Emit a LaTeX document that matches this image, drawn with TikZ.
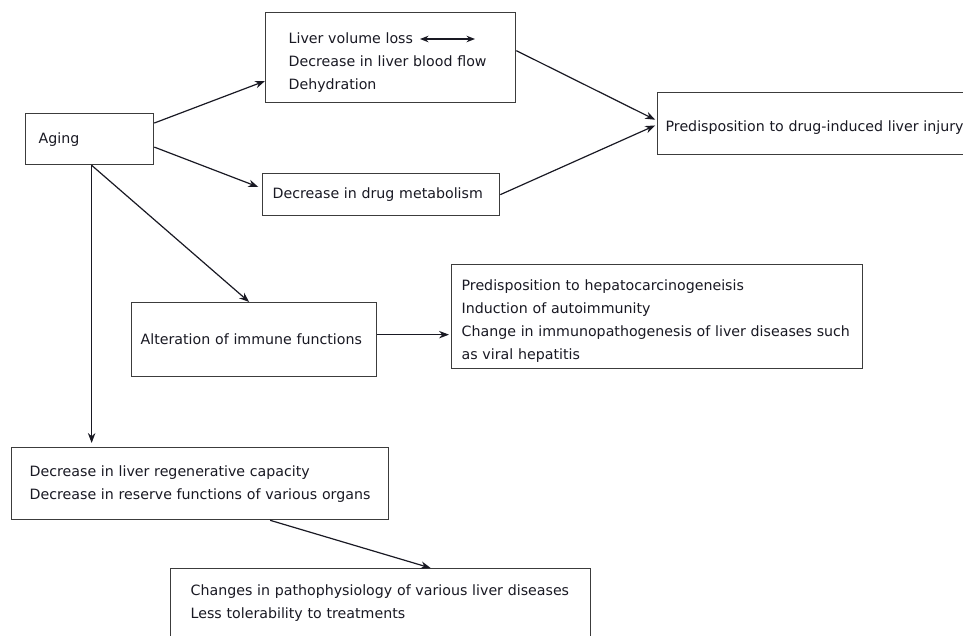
\documentclass[tikz,border=0pt]{standalone}
\usepackage{fontspec}
\setmainfont{DejaVu Sans}
\usepackage{tikz}
\usetikzlibrary{arrows.meta,calc}
\definecolor{framegray}{RGB}{60,60,60}
\definecolor{inkblack}{RGB}{25,25,35}
\tikzset{
  flow/.style={-{Stealth[length=10pt,width=7.5pt]},draw=inkblack,line width=1.2pt},
  twoway/.style={{Stealth[length=8.5pt,width=6.5pt]}-{Stealth[length=8.5pt,width=6.5pt]},draw=inkblack,line width=1.2pt},
  box/.style={draw=framegray,line width=1.3pt,fill=white,anchor=north west,align=left,
              text=inkblack,inner ysep=3pt,font=\fontsize{14.2}{23}\selectfont},
}
\begin{document}
\begin{tikzpicture}[x=1pt,y=-1pt]
  \path[use as bounding box] (0,0) rectangle (963,635);
  \clip (0,0) rectangle (963,635);

  \node[box,text width=102pt,inner xsep=13pt,minimum height=51pt] (aging) at (25,113)
    {Aging};
  \node[box,text width=204pt,inner xsep=23pt,minimum height=90pt,text height=21pt] (liver) at (265,12)
    {Liver volume loss\\
     Decrease in liver blood flow\\
     Dehydration};
  \node[box,text width=324pt,inner xsep=8pt,minimum height=62pt,text height=19pt] (dili) at (657,92)
    {Predisposition to drug-induced liver injury};
  \node[box,text width=217pt,inner xsep=10pt,minimum height=42pt] (drug) at (262,173)
    {Decrease in drug metabolism};
  \node[box,text width=227pt,inner xsep=9pt,minimum height=74pt] (immune) at (131,302)
    {Alteration of immune functions};
  \node[box,text width=391pt,inner xsep=10pt,minimum height=104pt,text height=19pt] (hepato) at (451,264)
    {Predisposition to hepatocarcinogeneisis\\
     Induction of autoimmunity\\
     Change in immunopathogenesis of liver diseases such\\
     as viral hepatitis};
  \node[box,text width=341pt,inner xsep=18pt,minimum height=72pt] (regen) at (11,447)
    {Decrease in liver regenerative capacity\\
     Decrease in reserve functions of various organs};
  \node[box,text width=380pt,inner xsep=20pt,minimum height=69pt] (treat) at (170,568)
    {Changes in pathophysiology of various liver diseases\\
     Less tolerability to treatments};

  % arrow inside the liver box
  \coordinate (volL) at (420,39);
  \coordinate (volR) at (475,39);
  \draw[twoway] (volL) -- (volR);

  % connectors
  \draw[flow] (aging.14) -- ($(liver.south west)!0.244!(liver.north west)$);
  \draw[flow,shorten >=4pt] (aging.353) -- (drug.177.6);
  \draw[flow] ([xshift=2pt]aging.south) -- ([xshift=-5pt]immune.north);
  \draw[flow,shorten >=4pt] ([xshift=2pt]aging.south) -- ([xshift=2pt]aging.south |- regen.north);
  \draw[flow,shorten >=2pt] ([yshift=7pt]liver.east) -- ([yshift=3pt]dili.west);
  \draw[flow,shorten >=2pt] (drug.east) -- ([yshift=-1pt]dili.west);
  \draw[flow,shorten >=2pt] ([yshift=5pt]immune.east) -- ([yshift=5pt]immune.east -| hepato.west);
  \draw[flow] ([xshift=70pt]regen.south) -- ([xshift=50pt]treat.north);
\end{tikzpicture}
\end{document}
